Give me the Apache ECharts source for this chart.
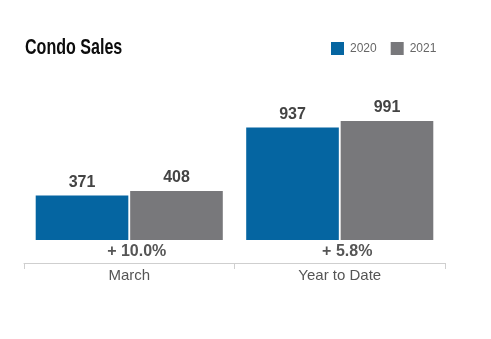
<!DOCTYPE html>
<html><head><meta charset="utf-8">
<script src="https://cdn.jsdelivr.net/npm/echarts@6/dist/echarts.min.js"></script>
<style>html,body{margin:0;padding:0;background:#fff}#c{width:491px;height:339px}</style>
</head><body><div id="c"></div>
<script>
const categories = ["March", "Year to Date"];
const sales2020 = [371, 937];
const sales2021 = [408, 991];
const changes = ["+ 10.0%", "+ 5.8%"];
const seriesNames = ["2020", "2021"];

const chart = echarts.init(document.getElementById('c'), null, {renderer: 'canvas'});
const font = '"Liberation Sans", Arial, sans-serif';
const valueLabel = {show: true, position: 'top', distance: 5, fontFamily: font, fontSize: 16, fontWeight: 'bold', color: '#444'};
chart.setOption({
  animation: false,
  backgroundColor: '#fff',
  graphic: [{type: 'text', left: 25, top: 37, scaleX: 0.73,
    style: {text: 'Condo Sales', font: 'bold 22px "Liberation Sans", Arial, sans-serif', fill: '#0d0d0d'}}],
  legend: {left: 331, top: 42, padding: 0, itemWidth: 13, itemHeight: 13, itemGap: 14,
    icon: 'rect', textStyle: {fontFamily: font, fontSize: 12, color: '#666', padding: [0,0,0,1]},
    data: seriesNames},
  grid: {left: 24, right: 46, top: 96, bottom: 99, containLabel: false},
  xAxis: [
    {type: 'category', data: categories, position: 'bottom', offset: 23,
      axisLine: {show: true, onZero: false, lineStyle: {color: '#cfcfcf', width: 1}},
      axisTick: {show: true, length: 6, lineStyle: {color: '#cfcfcf'}},
      axisLabel: {margin: 5, fontFamily: font, fontSize: 15, color: '#555'}},
    {type: 'category', data: changes, position: 'bottom', offset: 0,
      axisLine: {show: false, onZero: false}, axisTick: {show: false},
      axisLabel: {margin: 4, fontFamily: font, fontSize: 16, fontWeight: 'bold', color: '#555', padding: [0,0,0,15]}}
  ],
  yAxis: {type: 'value', min: 0, max: 1200, show: false},
  series: [
    {name: seriesNames[0], type: 'bar', data: sales2020, barWidth: '44%', barGap: '2%',
      itemStyle: {color: '#0565a1'}, label: valueLabel},
    {name: seriesNames[1], type: 'bar', data: sales2021, barWidth: '44%', barGap: '2%',
      itemStyle: {color: '#78787b'}, label: valueLabel}
  ]
});
</script></body></html>
